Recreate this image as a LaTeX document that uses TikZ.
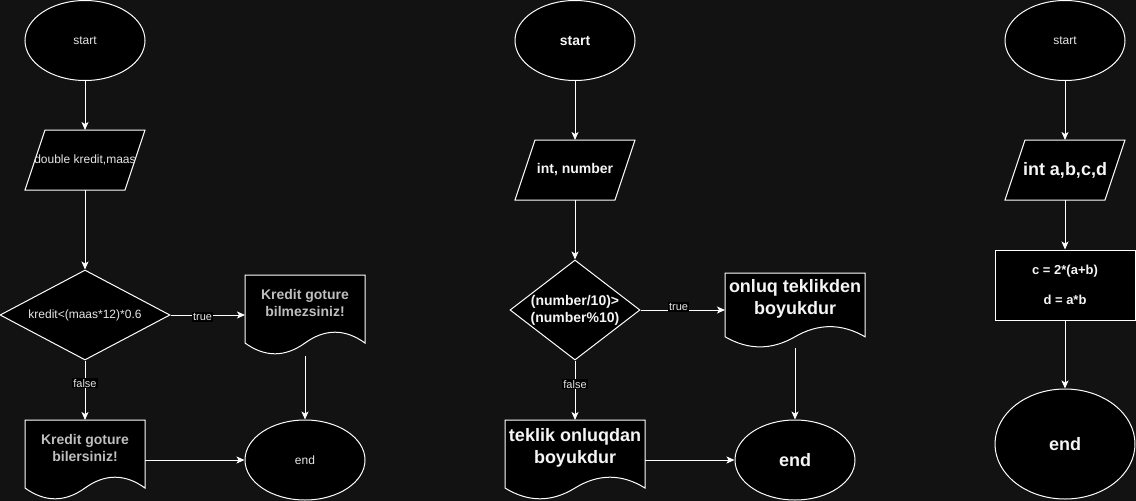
\documentclass[tikz,border=0pt]{standalone}
\usepackage{fontspec}
\setmainfont{Liberation Sans}
\usepackage{tikz}
\usetikzlibrary{shapes.geometric, arrows.meta, calc, positioning}
\usepackage{xcolor}
\definecolor{canvas}{HTML}{121212}
\definecolor{softwhite}{HTML}{E6E6E6}
\definecolor{softgray}{HTML}{BEBEBE}
\definecolor{brightwhite}{HTML}{F5F5F5}
\pgfdeclarelayer{back}
\pgfsetlayers{back,main}
\newcommand{\regular}[1]{\fontsize{#1}{#1}\selectfont}
\newcommand{\heavy}[1]{\fontsize{#1}{#1}\selectfont\bfseries}
% parallelogram round a node
\newcommand{\iopath}[1]{%
  \begin{pgfonlayer}{back}
  \draw[outline] (#1.south west) -- ($(#1.north west)+(20,0)$) -- (#1.north east)
    -- ($(#1.south east)+(-20,0)$) -- cycle;
  \end{pgfonlayer}}
% document shape, wave of depth #2 below the node
\newcommand{\docpath}[2]{%
  \begin{pgfonlayer}{back}
  \draw[outline] (#1.south west) -- (#1.north west) -- (#1.north east) -- ($(#1.south east)+(0,0.5*#2)$)
    .. controls ($(#1.south east)!1/6!(#1.south west)+(0,-0.1*#2)$) and ($(#1.south east)!1/3!(#1.south west)+(0,-0.1*#2)$) .. ($(#1.south)+(0,0.5*#2)$)
    .. controls ($(#1.south east)!2/3!(#1.south west)+(0,1.1*#2)$) and ($(#1.south east)!5/6!(#1.south west)+(0,1.1*#2)$) .. ($(#1.south west)+(0,0.5*#2)$) -- cycle;
  \end{pgfonlayer}}

\begin{document}
\begin{tikzpicture}[x=1pt,y=-1pt]
        \tikzstyle{outline}=[draw=white, fill=black, line width=1pt]
        \tikzstyle{term}=[ellipse, draw=white, fill=black, line width=1pt, inner sep=0pt, minimum width=120, minimum height=80]
        \tikzstyle{iobox}=[rectangle, inner sep=0pt, outer sep=0pt, minimum width=120, minimum height=60]
        \tikzstyle{cond}=[diamond, draw=white, fill=black, line width=1pt, inner sep=0pt, align=center]
        \tikzstyle{docbox}=[rectangle, inner sep=0pt, outer sep=0pt, align=center]
        \tikzstyle{procbox}=[rectangle, draw=white, fill=black, line width=1pt, minimum width=140, minimum height=70, align=center]
        \tikzstyle{flow}=[draw=white, line width=1pt, -{Stealth[length=8pt, width=7pt, inset=2pt]}]
        \tikzstyle{edgelabel}=[fill=black, inner sep=1pt, text=softwhite, font=\regular{11}]
        \useasboundingbox (0,0) rectangle (1136,501);
        \begin{pgfonlayer}{back}
        \fill[canvas] (0,0) rectangle (1136,501);
        \end{pgfonlayer}
        % first chart: kredit
        \node (s1)[term, text=softwhite, font=\regular{12}] at (85,40.5) {start};
        \node (in1)[iobox, text=softwhite, font=\regular{12}] at (85,160) {double kredit,maas};
        \iopath{in1}
        \node (c1)[cond, aspect=2, minimum width=170, minimum height=90, text=softwhite, font=\regular{12}] at (85,315) {kredit<(maas*12)*0.6};
        \node (d1t)[docbox, minimum width=120, minimum height=56, text=softgray, font=\heavy{14}] at (305,303) {Kredit goture\\[3pt]bilmezsiniz!};
        \docpath{d1t}{24}
        \node (d1f)[docbox, minimum width=120, minimum height=56, text=softgray, font=\heavy{14}] at (85,448) {Kredit goture\\[3pt]bilersiniz!};
        \docpath{d1f}{24}
        \node (e1)[term, text=softwhite, font=\regular{12}] at (305,460) {end};
        \coordinate (d1tb) at ($(d1t.south)+(0,25)$);
        \draw[flow] (s1) -- (in1);
        \draw[flow] (in1) -- (c1);
        \draw[flow] (c1.east) -- node[edgelabel, pos=0.43, yshift=-2pt] {true} (c1.east -| d1t.west);
        \draw[flow] (c1.south) -- node[edgelabel, pos=0.38] {false} (d1f.north);
        \draw[flow] (d1tb) -- (e1.north);
        \draw[flow] (d1f.east |- e1.west) -- (e1.west);
        % second chart: number
        \node (s2)[term, text=brightwhite, font=\heavy{14}] at (575,40.5) {start};
        \node (in2)[iobox, text=brightwhite, font=\heavy{14}] at (575,170) {int, number};
        \iopath{in2}
        \node (c2)[cond, aspect=1.3, minimum width=130, minimum height=100, text=brightwhite, font=\heavy{14}] at (575,310) {(number/10)>\\[3pt](number\%10)};
        \node (d2t)[docbox, minimum width=140, minimum height=52.5, text=brightwhite, font=\heavy{18}] at (795,299.25) {onluq teklikden\\[4pt]boyukdur};
        \docpath{d2t}{22.5}
        \node (d2f)[docbox, minimum width=140, minimum height=56, text=brightwhite, font=\heavy{18}] at (575,448) {teklik onluqdan\\[4pt]boyukdur};
        \docpath{d2f}{24}
        \node (e2)[term, text=brightwhite, font=\heavy{18}] at (795,460) {end};
        \coordinate (d2tb) at ($(d2t.south)+(0,22)$);
        \draw[flow] (s2) -- (in2);
        \draw[flow] (in2) -- (c2);
        \draw[flow] (c2.east) -- node[edgelabel, pos=0.45, yshift=3pt] {true} (c2.east -| d2t.west);
        \draw[flow] (c2.south) -- node[edgelabel, pos=0.4] {false} (d2f.north);
        \draw[flow] (d2tb) -- (e2.north);
        \draw[flow] (d2f.east |- e2.west) -- (e2.west);
        % third chart: a,b,c,d
        \node (s3)[term, text=softwhite, font=\regular{12}] at (1065,40.5) {start};
        \node (in3)[iobox, text=brightwhite, font=\heavy{18}] at (1065,170) {int a,b,c,d};
        \iopath{in3}
        \node (p3)[procbox, text=brightwhite, font=\heavy{13}] at (1065,285) {c = 2*(a+b)\\[17pt]d = a*b};
        \node (e3)[term, minimum width=140, minimum height=110, text=brightwhite, font=\heavy{18}] at (1065,444) {end};
        \draw[flow] (s3) -- (in3);
        \draw[flow] (in3) -- (p3);
        \draw[flow] (p3) -- (e3);
\end{tikzpicture}
\end{document}
